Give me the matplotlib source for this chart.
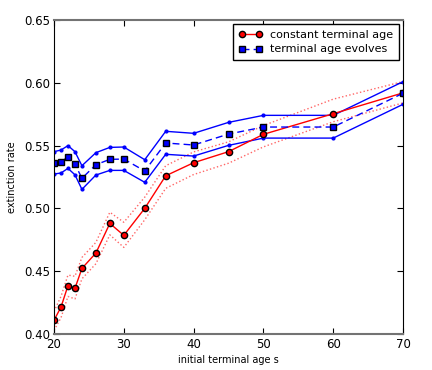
import matplotlib
matplotlib.use('Agg')
import matplotlib.pyplot as plt

# initial terminal age values
s = [20, 21, 22, 23, 24, 26, 28, 30, 33, 36, 40, 45, 50, 60, 70]

# constant terminal age: mean and dotted bounds
const_mean = [0.411, 0.4215, 0.4385, 0.4364, 0.4523, 0.4645, 0.4881, 0.4786, 0.5001,
              0.526, 0.5364, 0.5452, 0.559, 0.5754, 0.592]
const_hi = [0.418, 0.430, 0.447, 0.446, 0.461, 0.473, 0.497, 0.489, 0.509,
            0.534, 0.545, 0.553, 0.566, 0.587, 0.601]
const_lo = [0.403, 0.413, 0.430, 0.428, 0.444, 0.456, 0.479, 0.469, 0.491,
            0.516, 0.527, 0.536, 0.549, 0.569, 0.584]

# terminal age evolves: mean and solid bounds
evol_mean = [0.5361, 0.5372, 0.5409, 0.5353, 0.524, 0.5348, 0.5391, 0.5393, 0.5298,
             0.5521, 0.5505, 0.5592, 0.5648, 0.5648, 0.5917]
evol_hi = [0.5452, 0.5465, 0.55, 0.5452, 0.534, 0.5444, 0.5486, 0.5489, 0.5388,
           0.5614, 0.5598, 0.5685, 0.5741, 0.5741, 0.6009]
evol_lo = [0.5274, 0.5282, 0.5319, 0.5268, 0.5152, 0.5266, 0.5303, 0.5303, 0.5208,
           0.5431, 0.5417, 0.5502, 0.556, 0.556, 0.5829]

fig = plt.figure(figsize=(4.32, 3.70), dpi=100)
ax = fig.add_axes([0.125, 0.097, 0.808, 0.849])

ax.plot(s, const_hi, ':', color='#ff6666', lw=1)
ax.plot(s, const_lo, ':', color='#ff6666', lw=1)
ax.plot(s, evol_hi, '.-', color='b', lw=1, ms=4)
ax.plot(s, evol_lo, '.-', color='b', lw=1, ms=4)
ax.plot(s, const_mean, '-o', color='r', mfc='r', mec='k', ms=4.5, lw=1,
        label='constant terminal age')
ax.plot(s, evol_mean, '--s', color='b', mfc='b', mec='k', ms=4.5, lw=1,
        dashes=(5, 3), label='terminal age evolves')

ax.set_xlim(20, 70)
ax.set_ylim(0.40, 0.65)
ax.set_xticks([20, 30, 40, 50, 60, 70])
ax.set_yticks([0.40, 0.45, 0.50, 0.55, 0.60, 0.65])
ax.set_yticklabels(['0.40', '0.45', '0.50', '0.55', '0.60', '0.65'])
ax.tick_params(direction='in', top=True, right=True, labelsize=8.5, length=4, pad=3)
ax.set_xlabel('initial terminal age s', fontsize=7, labelpad=3)
ax.set_ylabel('extinction rate', fontsize=7, labelpad=5)

for side in ['top', 'bottom']:
    ax.spines[side].set_color('0.45')
    ax.spines[side].set_linewidth(1.5)

leg = ax.legend(loc='upper right', numpoints=2, fontsize=8, fancybox=False,
                framealpha=1, handlelength=2.1, handletextpad=0.7,
                borderaxespad=0.4, labelspacing=0.4, borderpad=0.5)
leg.get_frame().set_edgecolor('k')

fig.savefig('out.png', dpi=100)
